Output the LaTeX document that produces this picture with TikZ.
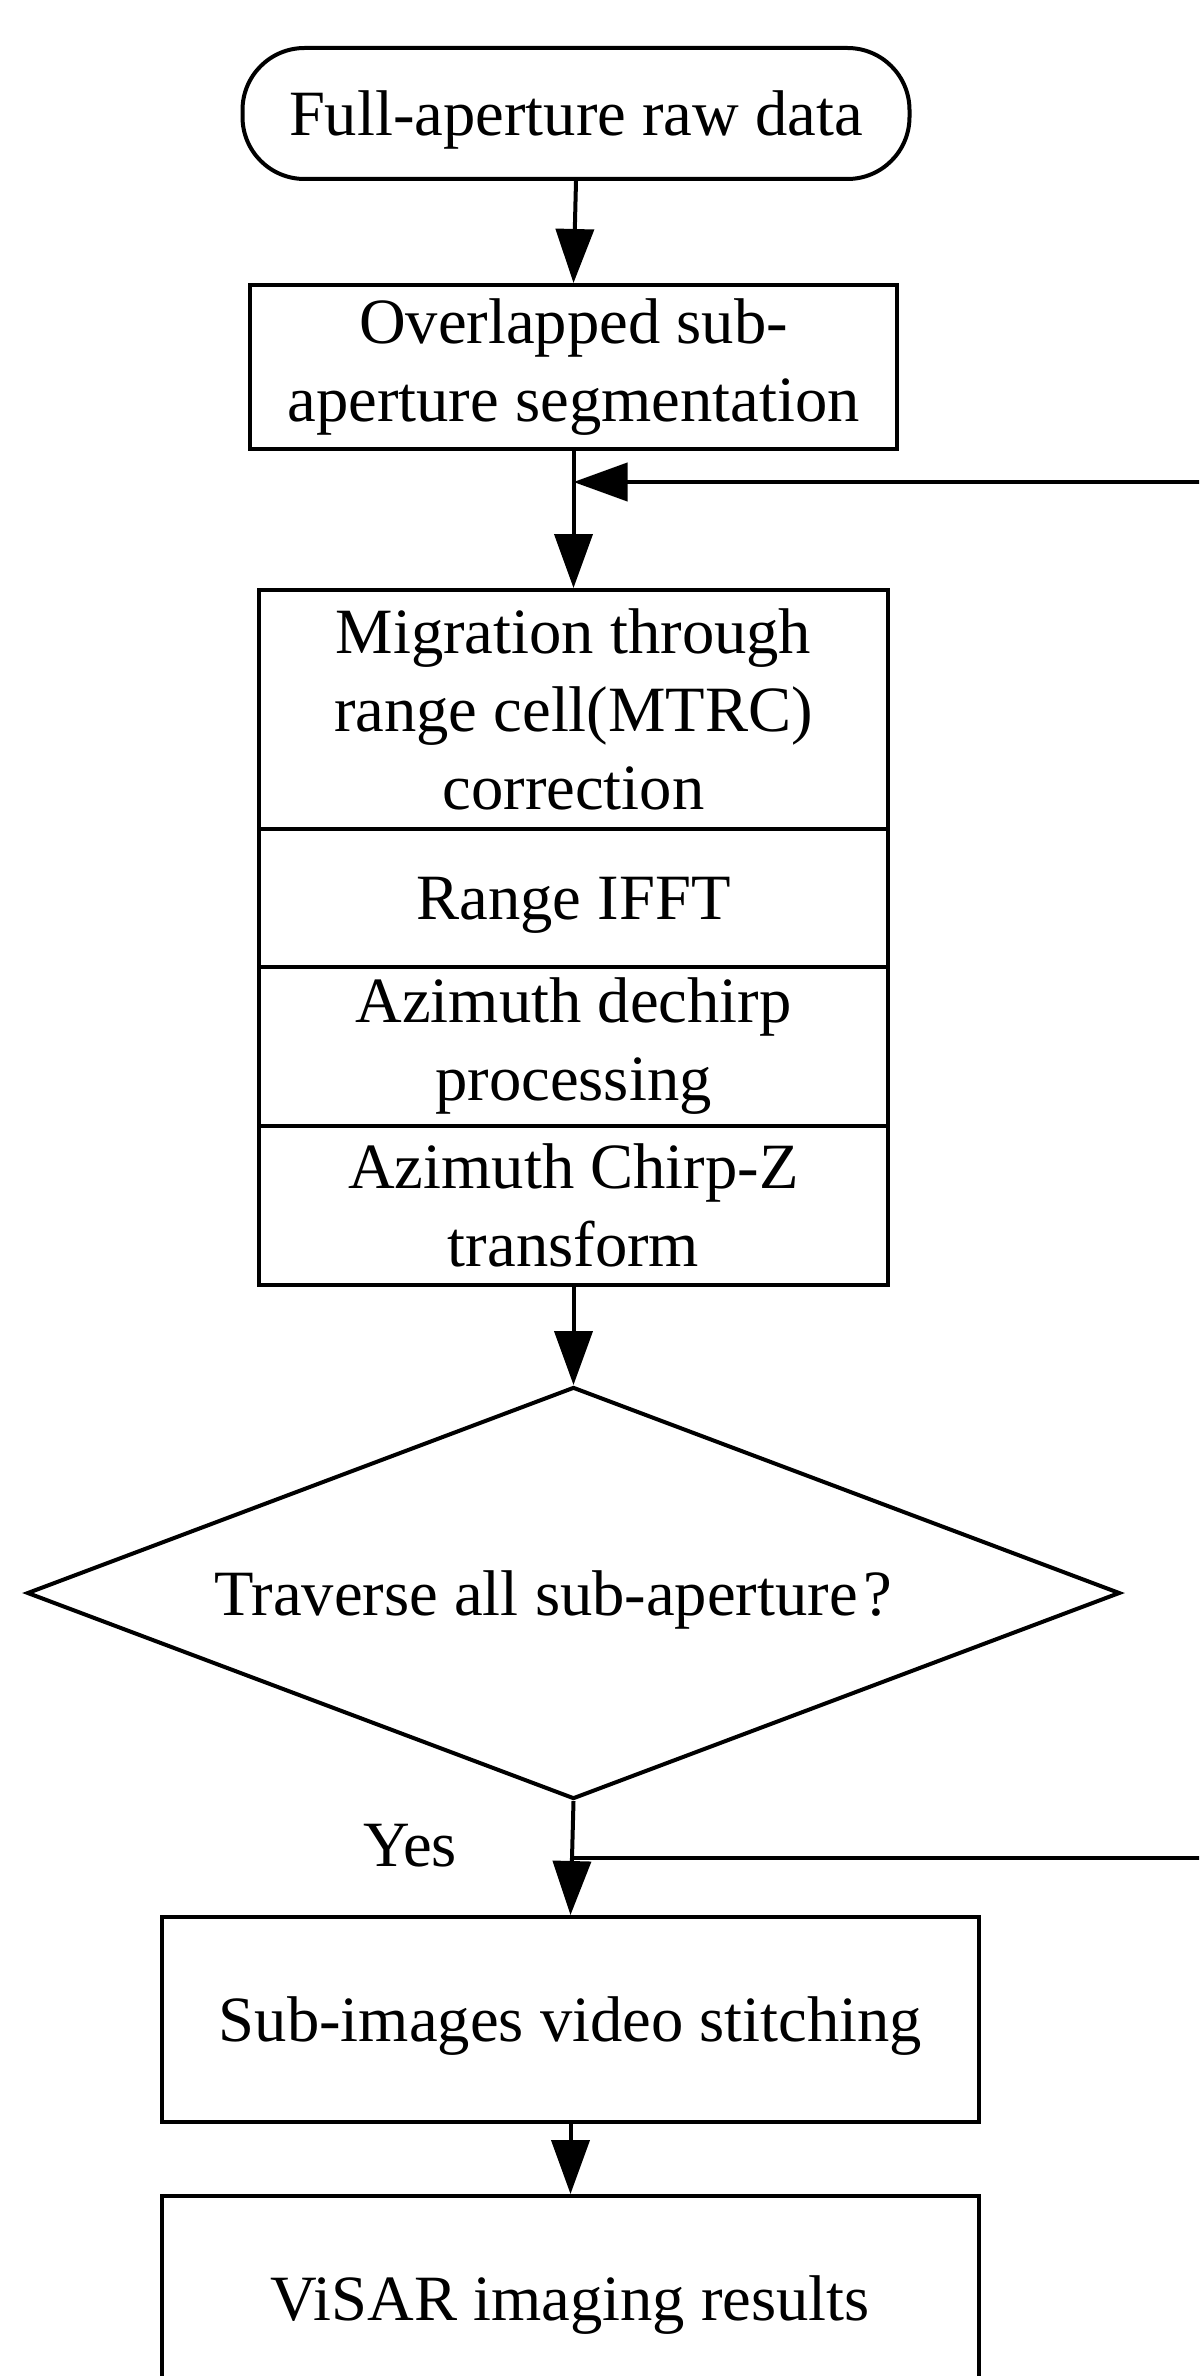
\documentclass[tikz,border=0pt]{standalone}
\usepackage{fontspec}
\setmainfont{Liberation Serif}
\usetikzlibrary{shapes.geometric,arrows.meta}
\tikzset{
  base/.style={draw, line width=2pt, align=center, inner sep=0pt, font=\fontsize{32.3}{39}\selectfont},
  oneline/.style={text depth=0pt},
  termbox/.style={base, oneline, rounded corners=31pt, minimum width=333.5pt, minimum height=65.5pt},
  procbox/.style={base, rectangle},
  stackbox/.style={base, rectangle, minimum width=314.5pt},
  decide/.style={base, oneline, diamond, aspect=2.65, minimum width=546.5pt, minimum height=206pt},
  conn/.style={line width=2pt},
  arr/.style={conn, -{Triangle[length=27pt,width=19pt]}},
  lbl/.style={font=\fontsize{32.3}{39}\selectfont, inner sep=0pt}
}
\begin{document}
\begin{tikzpicture}[x=0.5pt,y=-0.5pt]
\clip (0,0) rectangle (1199,2376);
\fill[white] (0,0) rectangle (1199,2376);

\node[termbox] (start) at (576,113.5) {Full-aperture raw data};
\node[procbox, minimum width=323.5pt, minimum height=82pt] (seg) at (573.5,367) {Overlapped sub-\\aperture segmentation};

\node[stackbox, minimum height=119.5pt] (s1) at (573.5,709.5) {Migration through\\range cell(MTRC)\\correction};
\node[stackbox, oneline, minimum height=69pt] (s2) at (573.5,898) {Range IFFT};
\node[stackbox, minimum height=79.5pt] (s3) at (573.5,1046.5) {Azimuth dechirp\\processing};
\node[stackbox, minimum height=79.5pt] (s4) at (573.5,1205.5) {Azimuth Chirp-Z\\transform};

\node[decide] (dec) at (573.5,1593) {Traverse all sub-aperture\kern3pt?\hspace*{20pt}};
\node[lbl] (yes) at (410,1846) {Yes};

\node[procbox, oneline, minimum width=408.5pt, minimum height=102.5pt] (stitch) at (570.5,2019.5) {Sub-images video stitching};
\node[procbox, oneline, minimum width=408.5pt, minimum height=102.5pt] (res) at (570.5,2298.5) {ViSAR imaging results};

\coordinate (loopin) at (1215,482);
\coordinate (loopout) at (1215,1858);

\draw[arr] (start.south) -- (seg.north);
\draw[arr] (seg.south) -- (s1.north);
\draw[arr] (loopin) -- (seg.south |- loopin);
\draw[arr] (s4.south) -- (dec.north);
\draw[arr] (dec.south) -- (stitch.north);
\draw[conn] (loopout) -- (dec.south |- loopout);
\draw[arr] (stitch.south) -- (res.north);
\end{tikzpicture}
\end{document}
